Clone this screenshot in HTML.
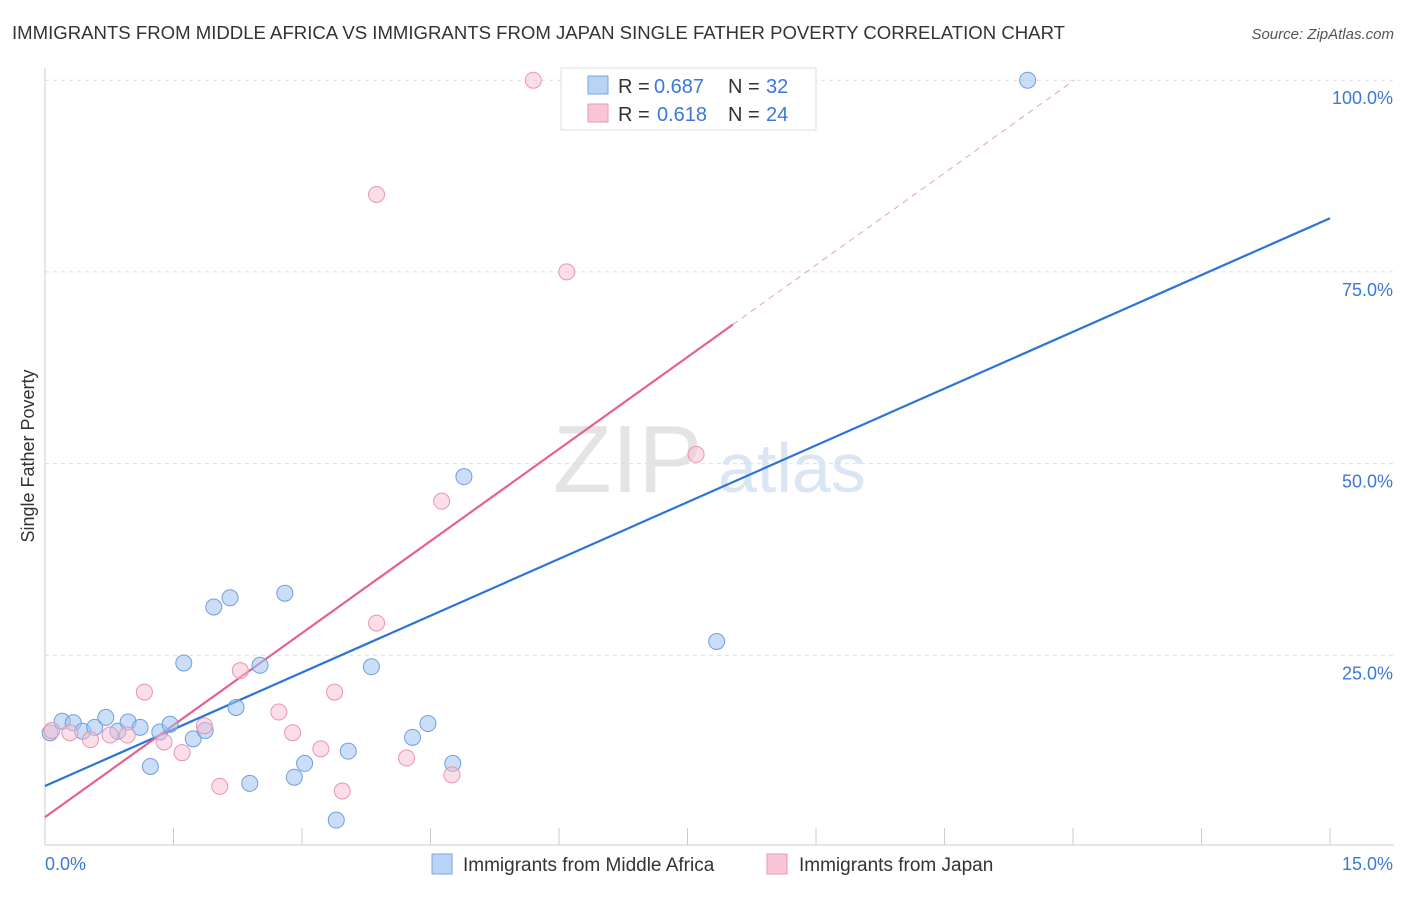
<!DOCTYPE html>
<html><head><meta charset="utf-8"><style>
body{margin:0;background:#fff;font-family:"Liberation Sans",sans-serif}
svg text{font-family:"Liberation Sans",sans-serif}
</style></head><body>
<svg id="c" width="1406" height="892" viewBox="0 0 1406 892">
<text x="12" y="39" font-size="18" fill="#333" textLength="1053" lengthAdjust="spacingAndGlyphs">IMMIGRANTS FROM MIDDLE AFRICA VS IMMIGRANTS FROM JAPAN SINGLE FATHER POVERTY CORRELATION CHART</text>
<text x="1394" y="39" font-size="15" fill="#555" font-style="italic" text-anchor="end">Source: ZipAtlas.com</text>
<text x="34" y="456" font-size="18" fill="#333" transform="rotate(-90 34 456)" text-anchor="middle">Single Father Poverty</text>
<text x="553" y="492" font-size="96" fill="#e4e4e4" font-family="Liberation Serif">ZIP</text>
<text x="718" y="492" font-size="70" fill="#dbe6f4">atlas</text>
<g id="grid"></g><g id="axes"></g><g id="lines"></g><g id="pts"></g>
<g>
<rect x="561" y="68" width="255" height="62" fill="#fff" stroke="#ddd"/>
<rect x="588" y="76" width="20" height="18" fill="#b8d3f5" stroke="#7aa7e0"/>
<rect x="588" y="104" width="20" height="18" fill="#f9c5d5" stroke="#e99ab3"/>
<text x="618" y="93" font-size="20" fill="#333">R =</text>
<text x="654" y="93" font-size="20" fill="#3b78d8">0.687</text>
<text x="728" y="93" font-size="20" fill="#333">N =</text>
<text x="766" y="93" font-size="20" fill="#3b78d8">32</text>
<text x="618" y="121" font-size="20" fill="#333">R =</text>
<text x="657" y="121" font-size="20" fill="#3b78d8">0.618</text>
<text x="728" y="121" font-size="20" fill="#333">N =</text>
<text x="766" y="121" font-size="20" fill="#3b78d8">24</text>
</g>
<g>
<rect x="432" y="854" width="20" height="20" fill="#b8d3f5" stroke="#7aa7e0"/>
<text x="463" y="871" font-size="19" fill="#333">Immigrants from Middle Africa</text>
<rect x="767" y="854" width="20" height="20" fill="#f9c5d5" stroke="#e99ab3"/>
<text x="799" y="871" font-size="19" fill="#333">Immigrants from Japan</text>
</g>
</svg>
<script>
const xTicks=[0,15];
const yTicks=[25,50,75,100];
const blueX=[0.06,0.2,0.33,0.44,0.58,0.71,0.85,0.97,1.11,1.23,1.34,1.46,1.62,1.73,1.87,1.97,2.16,2.23,2.39,2.51,2.8,2.91,3.03,3.4,3.54,3.81,4.29,4.47,4.76,4.89,7.84,11.47];
const blueY=[14.9,16.4,16.2,15.1,15.6,16.9,15.1,16.3,15.6,10.5,15.0,16.0,24.0,14.1,15.2,31.3,32.5,18.2,8.3,23.7,33.1,9.1,10.9,3.5,12.5,23.5,14.3,16.1,10.9,48.3,26.8,100];
const pinkX=[0.08,0.29,0.53,0.76,0.96,1.16,1.39,1.6,1.86,2.04,2.28,2.73,2.89,3.22,3.38,3.47,3.87,4.22,4.63,4.75,5.7,3.87,6.09,7.6];
const pinkY=[15.2,14.9,14.0,14.6,14.6,20.2,13.7,12.3,15.8,7.9,23.0,17.6,14.9,12.8,20.2,7.3,29.2,11.6,45.1,9.4,100,85.1,75.0,51.2];
const blueFit=[7.95,82.0];
const pinkFit=[3.9,8.0];
const X=v=>45+v*85.67, Y=v=>847-v*7.668;
const ns="http://www.w3.org/2000/svg";
function mk(t,a,p){const e=document.createElementNS(ns,t);for(const k in a)e.setAttribute(k,a[k]);p.appendChild(e);return e;}
const g=document.getElementById('grid'),ax=document.getElementById('axes'),ln=document.getElementById('lines'),pt=document.getElementById('pts');
yTicks.forEach(v=>{
 const l=mk('line',{x1:45,x2:1394,y1:Y(v),y2:Y(v),stroke:'#ddd','stroke-dasharray':'4,4'},g);
 
 
 const t=mk('text',{x:1393,y:Y(v)+24,'font-size':18,fill:'#3b78d8','text-anchor':'end'},ax);
 t.textContent=v.toFixed(1)+'%';
 
 
});
mk('line',{x1:45,x2:45,y1:68,y2:845,stroke:'#ccc'},ax);
mk('line',{x1:45,x2:1394,y1:845,y2:845,stroke:'#ccc'},ax);
for(let i=0;i<=10;i++){mk('line',{x1:X(i*1.5),x2:X(i*1.5),y1:828,y2:845,stroke:'#ccc'},ax);}
xTicks.forEach((v,i)=>{
 const t=mk('text',{x:i?1393:45,y:870,'font-size':18,fill:'#3b78d8','text-anchor':i?'end':'start'},ax);
 t.textContent=v.toFixed(1)+'%';
 
 
});
blueX.forEach((x,i)=>{
 const c=mk('circle',{cx:X(x),cy:Y(blueY[i]),r:8,fill:'rgba(160,195,240,0.55)',stroke:'#6f9fdc','stroke-width':1},pt);
 
 
});
pinkX.forEach((x,i)=>{
 const c=mk('circle',{cx:X(x),cy:Y(pinkY[i]),r:8,fill:'rgba(248,190,208,0.5)',stroke:'#e995b0','stroke-width':1},pt);
 
 
});
const bl=mk('line',{x1:X(0),y1:Y(blueFit[0]),x2:X(15),y2:Y(blueFit[1]),stroke:'#2c74d8','stroke-width':2.2},ln);


const xe=8.03, xd=(100-pinkFit[0])/pinkFit[1];
const pl=mk('line',{x1:X(0),y1:Y(pinkFit[0]),x2:X(xe),y2:Y(pinkFit[0]+pinkFit[1]*xe),stroke:'#e8608e','stroke-width':2.2},ln);


const pd=mk('line',{x1:X(xe),y1:Y(pinkFit[0]+pinkFit[1]*xe),x2:X(xd),y2:Y(100),stroke:'#e8a0b8','stroke-width':1,'stroke-dasharray':'6,5'},ln);


</script>
</body></html>
